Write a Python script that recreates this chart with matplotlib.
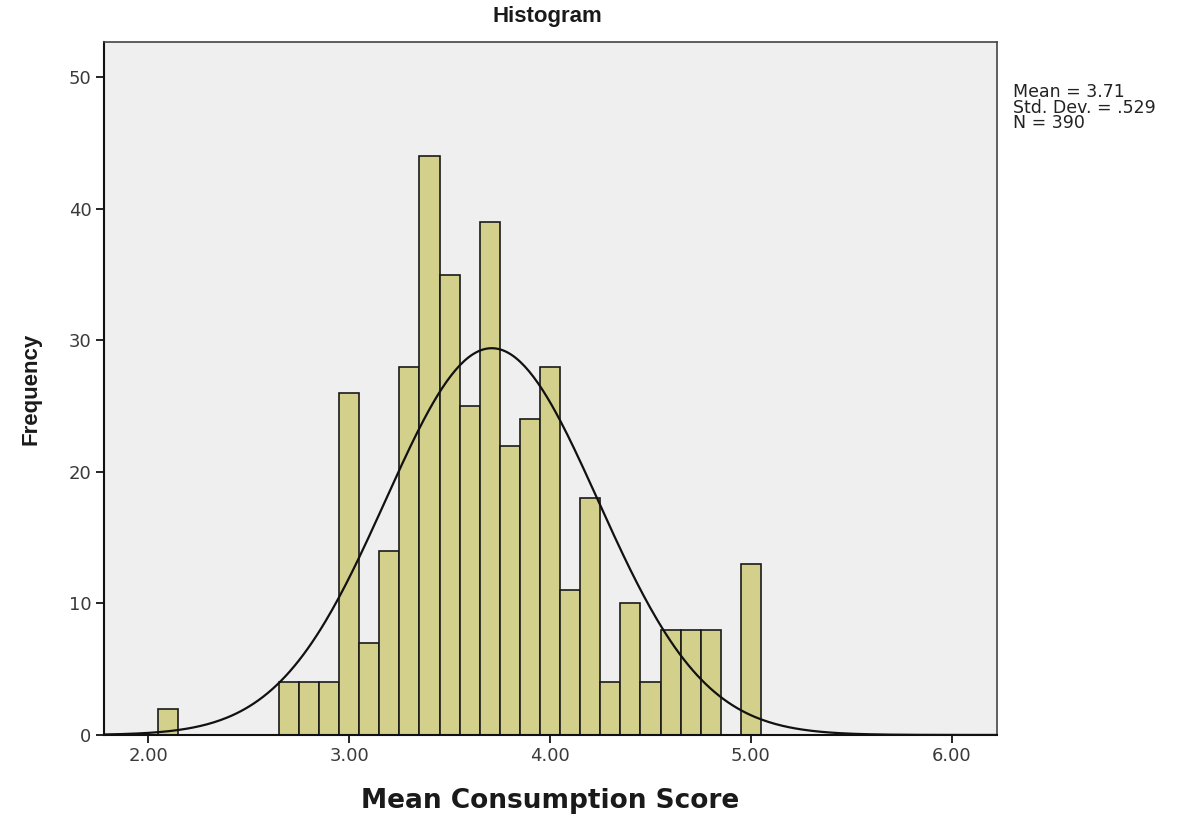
import matplotlib
matplotlib.use("Agg")
import matplotlib.pyplot as plt
import numpy as np

# Data (bin centres, width 0.1)
bin_centers = [2.1, 2.2, 2.3, 2.4, 2.5, 2.6, 2.7, 2.8, 2.9, 3.0,
               3.1, 3.2, 3.3, 3.4, 3.5, 3.6, 3.7, 3.8, 3.9, 4.0,
               4.1, 4.2, 4.3, 4.4, 4.5, 4.6, 4.7, 4.8, 4.9, 5.0]
counts = [2, 0, 0, 0, 0, 0, 4, 4, 4, 26,
          7, 14, 28, 44, 35, 25, 39, 22, 24, 28,
          11, 18, 4, 10, 4, 8, 8, 8, 0, 13]
bin_width = 0.1

# Summary statistics shown in the chart
mean_val = 3.71
std_val = 0.529
n_val = 390

x_ticks = [2.0, 3.0, 4.0, 5.0, 6.0]
x_ticklabels = ['2.00', '3.00', '4.00', '5.00', '6.00']
y_ticks = [0, 10, 20, 30, 40, 50]

plt.rcParams['font.family'] = ['DejaVu Sans']

fig = plt.figure(figsize=(11.96, 8.18), dpi=100)
ax = fig.add_axes([0.087, 0.1015, 0.7466, 0.8472])
ax.set_facecolor('#efefef')

bc = np.array(bin_centers)
cnt = np.array(counts)
mask = cnt > 0
ax.bar(bc[mask], cnt[mask], width=bin_width, color='#d3d08b',
       edgecolor='#1a1a1a', linewidth=1.2, zorder=2)

# Normal curve fitted with the chart's mean / sd / N
xs = np.linspace(1.78, 6.225, 400)
ys = n_val * bin_width / (std_val * np.sqrt(2 * np.pi)) * np.exp(-0.5 * ((xs - mean_val) / std_val) ** 2)
ax.plot(xs, ys, color='#111111', linewidth=1.6, zorder=3)

ax.set_xlim(1.78, 6.225)
ax.set_ylim(0, 52.7)
ax.set_xticks(x_ticks)
ax.set_xticklabels(x_ticklabels)
ax.set_yticks(y_ticks)
ax.tick_params(direction='out', length=6, width=1.2, labelsize=13,
               labelcolor='#3a3a3a', pad=3)

for side in ['left', 'bottom']:
    ax.spines[side].set_linewidth(1.5)
    ax.spines[side].set_color('#111111')
for side in ['top', 'right']:
    ax.spines[side].set_linewidth(1.2)
    ax.spines[side].set_color('#444444')

ax.set_xlabel('Mean Consumption Score', fontsize=19, fontweight='bold',
              labelpad=16, color='#1a1a1a')
ax.set_ylabel('Frequency', fontsize=16, fontweight='bold', labelpad=20,
              family='Liberation Sans', color='#1a1a1a')
fig.text(0.458, 0.980, 'Histogram', ha='center', va='center', fontsize=16,
         fontweight='bold', family='Liberation Sans', color='#1a1a1a')

fig.text(0.847, 0.899, f'Mean = {mean_val:.2f}\nStd. Dev. = .529\nN = {n_val}',
         ha='left', va='top', fontsize=12.5, color='#222222', linespacing=0.85)

fig.savefig('out.png', dpi=100, facecolor='white')
